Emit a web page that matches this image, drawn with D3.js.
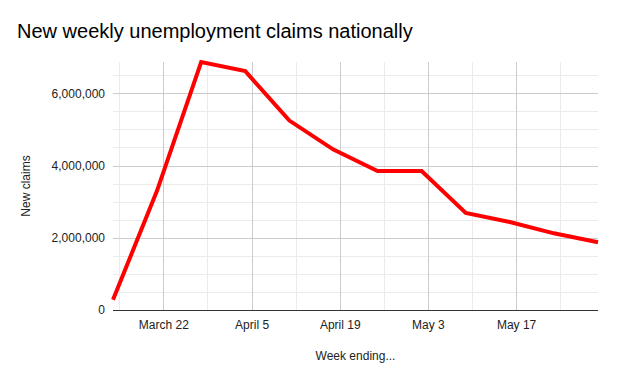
<!DOCTYPE html>
<html>
<head>
<meta charset="utf-8">
<script src="https://cdn.jsdelivr.net/npm/d3@7"></script>
<style>
  body { margin: 0; background: #fff; }
  svg { display: block; font-family: "Liberation Sans", Arial, sans-serif; }
</style>
</head>
<body>
<svg id="chart" width="618" height="382"></svg>
<script>
// week ending dates (Saturdays) and new claims
var weeks = ["2020-03-14", "2020-03-21", "2020-03-28", "2020-04-04", "2020-04-11", "2020-04-18",
  "2020-04-25", "2020-05-02", "2020-05-09", "2020-05-16", "2020-05-23", "2020-05-30"];
var claims = [282000, 3307000, 6867000, 6615000, 5245000, 4442000,
  3846000, 3849000, 2687000, 2438000, 2123000, 1877000];
var yTicks = [0, 2000000, 4000000, 6000000];

var parse = d3.timeParse("%Y-%m-%d");
var data = weeks.map(function(w, i) { return { date: parse(w), value: claims[i] }; });

var svg = d3.select("#chart");
var margin = { top: 62, right: 20, bottom: 72, left: 113 };
var width = 618 - margin.left - margin.right;
var height = 382 - margin.top - margin.bottom;

var x = d3.scaleTime()
  .domain(d3.extent(data, function(d) { return d.date; }))
  .range([0, width]);

var y = d3.scaleLinear()
  .domain([0, d3.max(claims)])
  .range([height, 0]);

var g = svg.append("g").attr("transform", "translate(" + margin.left + "," + margin.top + ")");

// minor horizontal gridlines every 500k
var minorY = d3.range(500000, d3.max(claims), 500000).filter(function(v) { return v % 2000000 != 0; });
g.selectAll(".minor-y").data(minorY).enter().append("line")
  .attr("x1", 0).attr("x2", width)
  .attr("y1", function(d) { return Math.round(y(d)) + 0.5; })
  .attr("y2", function(d) { return Math.round(y(d)) + 0.5; })
  .attr("stroke", "#ebebeb");

// vertical gridlines on Sundays: majors every 2 weeks, minors between
var sundays = d3.timeSunday.range(x.domain()[0], x.domain()[1]);
var majorDates = d3.timeSunday.every(1).range(parse("2020-03-22"), x.domain()[1]).filter(function(d, i) { return i % 2 == 0; });
g.selectAll(".vgrid").data(sundays).enter().append("line")
  .attr("x1", function(d) { return Math.round(x(d)) + 0.5; })
  .attr("x2", function(d) { return Math.round(x(d)) + 0.5; })
  .attr("y1", 0).attr("y2", height)
  .attr("stroke", function(d) {
    return majorDates.some(function(m) { return +m == +d; }) ? "#cccccc" : "#ebebeb";
  });

// major horizontal gridlines
g.selectAll(".major-y").data(yTicks.slice(1)).enter().append("line")
  .attr("x1", 0).attr("x2", width)
  .attr("y1", function(d) { return Math.round(y(d)) + 0.5; })
  .attr("y2", function(d) { return Math.round(y(d)) + 0.5; })
  .attr("stroke", "#cccccc");

// y axis labels
var yAxis = g.append("g")
  .call(d3.axisLeft(y).tickValues(yTicks).tickSize(0).tickPadding(8).tickFormat(d3.format(",")));
yAxis.select(".domain").remove();
yAxis.selectAll("text").attr("font-size", 12).attr("fill", "#222").attr("font-family", "Liberation Sans, Arial, sans-serif");

// x axis
var xAxis = g.append("g")
  .attr("transform", "translate(0," + height + ")")
  .call(d3.axisBottom(x).tickValues(majorDates).tickSize(0).tickPadding(10)
    .tickFormat(function(d) { return d3.timeFormat("%B ")(d) + d.getDate(); }));
xAxis.select(".domain").remove();
xAxis.selectAll("text").attr("font-size", 12).attr("fill", "#222").attr("font-family", "Liberation Sans, Arial, sans-serif");

g.append("line")
  .attr("x1", 0).attr("x2", width)
  .attr("y1", height + 0.5).attr("y2", height + 0.5)
  .attr("stroke", "#333");

// the line
var line = d3.line()
  .x(function(d) { return x(d.date); })
  .y(function(d) { return y(d.value); });

g.append("path")
  .datum(data)
  .attr("d", line)
  .attr("fill", "none")
  .attr("stroke", "#ff0000")
  .attr("stroke-width", 4)
  .attr("stroke-linejoin", "miter");

// title and axis titles
svg.append("text")
  .attr("x", 17).attr("y", 38)
  .attr("font-size", 20)
  .attr("fill", "#000")
  .text("New weekly unemployment claims nationally");

svg.append("text")
  .attr("transform", "translate(30," + (margin.top + height / 2) + ") rotate(-90)")
  .attr("text-anchor", "middle")
  .attr("font-size", 12)
  .attr("fill", "#222")
  .text("New claims");

svg.append("text")
  .attr("x", margin.left + width / 2).attr("y", 360)
  .attr("text-anchor", "middle")
  .attr("font-size", 12)
  .attr("fill", "#222")
  .text("Week ending...");
</script>
</body>
</html>
